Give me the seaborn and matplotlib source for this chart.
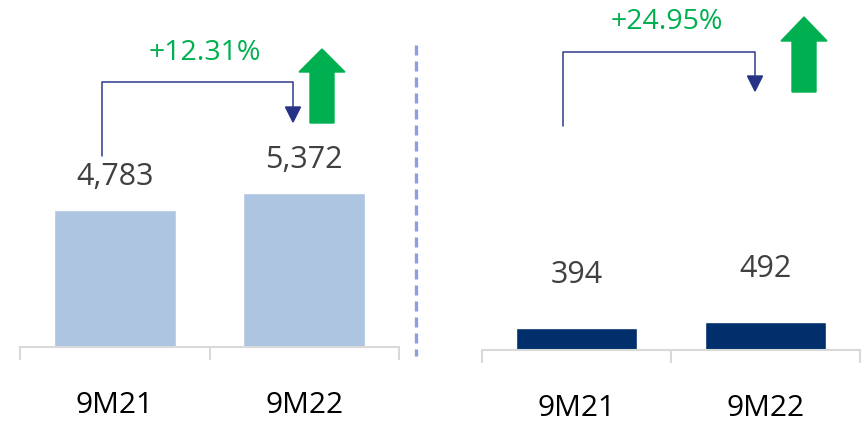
import matplotlib
matplotlib.use('Agg')
import matplotlib.pyplot as plt
import seaborn as sns
from matplotlib.lines import Line2D
from matplotlib.patches import Polygon

periods = ['9M21', '9M22']
left_values = [4783, 5372]
right_values = [394, 492]
left_labels = ['4,783', '5,372']
right_labels = ['394', '492']
growth = ['+12.31%', '+24.95%']

sns.set_style('white')
plt.rcParams['font.family'] = ['Open Sans', 'DejaVu Sans']

W, H = 861, 422
fig = plt.figure(figsize=(W / 100, H / 100), dpi=100)


def px(x, y):
    # pixel position -> figure fraction
    return x / W, 1 - y / H


def panel(left, right, base, ymax, values, labels, color, offset):
    ax = fig.add_axes([left / W, (H - base) / H, (right - left) / W, base / H])
    sns.barplot(x=periods, y=values, ax=ax, color=color, saturation=1, width=0.645)
    ax.set_xlim(-0.5, 1.5)
    ax.set_ylim(0, ymax)
    for s in ['top', 'left', 'right']:
        ax.spines[s].set_visible(False)
    ax.spines['bottom'].set_color('#d9d9d9')
    ax.spines['bottom'].set_linewidth(1.5)
    ax.set_yticks([])
    ax.set_xticks([0, 1])
    ax.set_xticklabels(periods, fontsize=21.5, color='black')
    ax.set_xticks([-0.5, 0.5, 1.5], minor=True)
    ax.tick_params(axis='x', which='major', bottom=False, length=0, pad=32)
    ax.tick_params(axis='x', which='minor', bottom=True, length=9.5, width=1.5,
                   color='#d9d9d9', direction='out')
    ax.set_xlabel('')
    ax.set_ylabel('')
    for i, (v, t) in enumerate(zip(values, labels)):
        ax.annotate(t, (i, v), xytext=(0, offset), textcoords='offset points',
                    ha='center', va='center', fontsize=22, color='#404040')
    return ax


ax1 = panel(20, 399, 347, 347 * 4783 / 137, left_values, left_labels, '#adc5e0', 24)
ax2 = panel(482, 860, 350, 350 * 17.7, right_values, right_labels, '#002f6c', 38)

# dashed divider
fig.add_artist(Line2D(*zip(px(416, 45), px(416, 356)), color='#8f9de3', lw=2.4,
                      linestyle=(0, (3.0, 1.8))))


def bracket(x0, y0, x1, ytop, ytip):
    pts = [px(x0, y0), px(x0, ytop), px(x1, ytop), px(x1, ytip - 14)]
    fig.add_artist(Line2D([p[0] for p in pts], [p[1] for p in pts], color='#2e3a8c', lw=1.1))
    head = [px(x1 - 7.5, ytip - 15), px(x1 + 7.5, ytip - 15), px(x1, ytip)]
    fig.add_artist(Polygon(head, closed=True, color='#253285', transform=fig.transFigure))


def up_arrow(xc, ytip, yhead, ybot):
    pts = [px(xc, ytip), px(xc + 23, yhead), px(xc + 12, yhead), px(xc + 12, ybot),
           px(xc - 12, ybot), px(xc - 12, yhead), px(xc - 23, yhead)]
    fig.add_artist(Polygon(pts, closed=True, color='#00b050', transform=fig.transFigure))


bracket(102, 156, 293, 82, 122)
bracket(563, 126, 755, 52, 91)
up_arrow(322, 49, 72, 123)
up_arrow(804, 17, 41, 92)

fig.text(*px(205, 53), growth[0], ha='center', va='center', fontsize=20.5, color='#00b050')
fig.text(*px(667, 22), growth[1], ha='center', va='center', fontsize=20.5, color='#00b050')

fig.savefig('out.png', dpi=100)
